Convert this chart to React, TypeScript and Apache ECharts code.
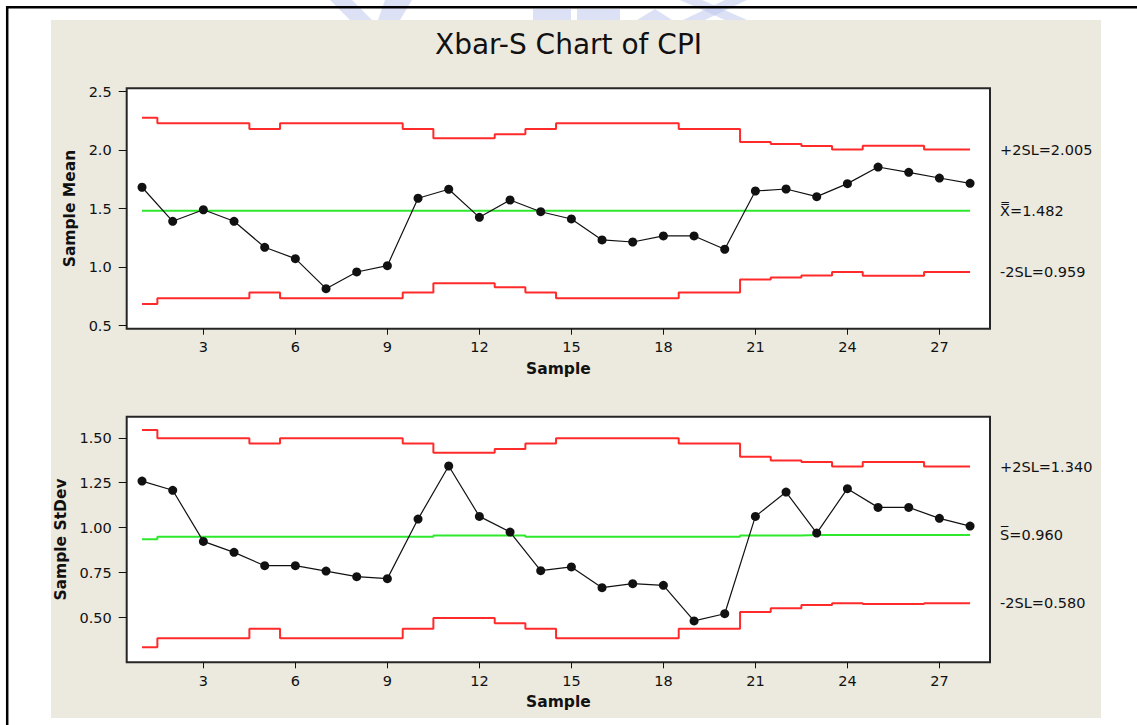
import React, { useEffect, useRef } from "react";
import * as echarts from "echarts";

// Subgroup numbers along the horizontal axis
const sampleIds = [1, 2, 3, 4, 5, 6, 7, 8, 9, 10, 11, 12, 13, 14, 15, 16, 17, 18, 19, 20, 21, 22, 23, 24, 25, 26, 27, 28];
const sampleTicks = [3, 6, 9, 12, 15, 18, 21, 24, 27];
const meanTicks = [0.5, 1.0, 1.5, 2.0, 2.5];
const stdevTicks = [0.5, 0.75, 1.0, 1.25, 1.5];

// Xbar chart: subgroup means with +/- 2 sigma limits
const xbarMeans = [1.683, 1.392, 1.491, 1.392, 1.170, 1.073, 0.816, 0.959, 1.013, 1.589, 1.666, 1.426, 1.574, 1.474, 1.412, 1.233, 1.215, 1.267, 1.267, 1.153, 1.651, 1.668, 1.603, 1.714, 1.856, 1.811, 1.762, 1.717];
const xbarUpper = [2.278, 2.230, 2.230, 2.230, 2.181, 2.230, 2.230, 2.230, 2.230, 2.181, 2.101, 2.101, 2.136, 2.181, 2.230, 2.230, 2.230, 2.230, 2.181, 2.181, 2.070, 2.052, 2.036, 2.005, 2.038, 2.038, 2.005, 2.005];
const xbarCenter = [1.482, 1.482, 1.482, 1.482, 1.482, 1.482, 1.482, 1.482, 1.482, 1.482, 1.482, 1.482, 1.482, 1.482, 1.482, 1.482, 1.482, 1.482, 1.482, 1.482, 1.482, 1.482, 1.482, 1.482, 1.482, 1.482, 1.482, 1.482];
const xbarLower = [0.686, 0.734, 0.734, 0.734, 0.783, 0.734, 0.734, 0.734, 0.734, 0.783, 0.863, 0.863, 0.828, 0.783, 0.734, 0.734, 0.734, 0.734, 0.783, 0.783, 0.894, 0.912, 0.928, 0.959, 0.926, 0.926, 0.959, 0.959];

// S chart: subgroup standard deviations with +/- 2 sigma limits
const stdevValues = [1.259, 1.208, 0.924, 0.863, 0.789, 0.789, 0.759, 0.728, 0.717, 1.048, 1.343, 1.063, 0.976, 0.761, 0.782, 0.667, 0.689, 0.680, 0.482, 0.522, 1.063, 1.198, 0.970, 1.217, 1.113, 1.113, 1.052, 1.009];
const stdevUpper = [1.543, 1.497, 1.497, 1.497, 1.468, 1.497, 1.497, 1.497, 1.497, 1.468, 1.417, 1.417, 1.437, 1.468, 1.497, 1.497, 1.497, 1.497, 1.468, 1.468, 1.394, 1.374, 1.365, 1.340, 1.365, 1.365, 1.340, 1.340];
const stdevCenter = [0.936, 0.950, 0.950, 0.950, 0.950, 0.950, 0.950, 0.950, 0.950, 0.950, 0.957, 0.957, 0.957, 0.950, 0.950, 0.950, 0.950, 0.950, 0.950, 0.950, 0.957, 0.957, 0.960, 0.960, 0.960, 0.960, 0.960, 0.960];
const stdevLower = [0.336, 0.386, 0.386, 0.386, 0.438, 0.386, 0.386, 0.386, 0.386, 0.438, 0.498, 0.498, 0.469, 0.438, 0.386, 0.386, 0.386, 0.386, 0.438, 0.438, 0.532, 0.552, 0.571, 0.580, 0.576, 0.576, 0.580, 0.580];

const FONT = "'DejaVu Sans', Tahoma, sans-serif";
const INK = "#111111";
const RED = "#ff2b2b";
const GREEN = "#2ee82e";
const PANEL = "#ece9df";

const last = (vals: number[]) => vals[vals.length - 1];
const pairs = (vals: number[]) => vals.map((v, i) => [sampleIds[i], v]);

function limitLine(axis: number, vals: number[], color: string, label: string) {
  return {
    type: "line",
    xAxisIndex: axis,
    yAxisIndex: axis,
    data: pairs(vals),
    step: "middle",
    symbol: "none",
    silent: true,
    z: 3,
    lineStyle: { color, width: 2 },
    endLabel: {
      show: true,
      formatter: label,
      distance: 30,
      color: INK,
      fontSize: 14.5,
      fontFamily: FONT,
    },
  };
}

function pointLine(axis: number, vals: number[]) {
  return {
    type: "line",
    xAxisIndex: axis,
    yAxisIndex: axis,
    data: pairs(vals),
    symbol: "circle",
    symbolSize: 9,
    showSymbol: true,
    silent: true,
    z: 5,
    itemStyle: { color: INK },
    lineStyle: { color: INK, width: 1.2 },
  };
}

const axisNameStyle = { fontWeight: "bold", fontSize: 15.5, fontFamily: FONT, color: INK };

function sampleAxis(gridIndex: number) {
  return {
    type: "value",
    gridIndex,
    min: 0.5,
    max: 28.65,
    name: "Sample",
    nameLocation: "middle",
    nameGap: 32,
    nameTextStyle: axisNameStyle,
    axisLine: { show: false },
    axisTick: { show: true, length: 6, customValues: sampleTicks, lineStyle: { color: INK, width: 1 } },
    axisLabel: { customValues: sampleTicks, margin: 11, color: INK, fontSize: 14.5, fontFamily: FONT },
    splitLine: { show: false },
  };
}

function valueAxis(gridIndex: number, name: string, min: number, max: number, ticks: number[], digits: number, gap: number) {
  return {
    type: "value",
    gridIndex,
    min,
    max,
    name,
    nameLocation: "middle",
    nameGap: gap,
    nameTextStyle: axisNameStyle,
    axisLine: { show: false },
    axisTick: { show: true, length: 8, customValues: ticks, lineStyle: { color: INK, width: 1 } },
    axisLabel: {
      customValues: ticks,
      margin: 15,
      color: INK,
      fontSize: 14.5,
      fontFamily: FONT,
      formatter: (v: number) => v.toFixed(digits),
    },
    splitLine: { show: false },
  };
}

const watermark = "#b9c3ee";

export default function App() {
  const ref = useRef<HTMLDivElement>(null);

  useEffect(() => {
    if (!ref.current) return;
    const chart = echarts.init(ref.current, undefined, { renderer: "svg" });
    chart.setOption({
      animation: false,
      backgroundColor: "#ffffff",
      title: {
        text: "Xbar-S Chart of CPI",
        left: "center",
        top: 25,
        textStyle: { fontSize: 28, fontWeight: "normal", fontFamily: FONT, color: INK },
      },
      graphic: [
        // faint logo fragments above the panel
        { type: "polygon", z: -20, shape: { points: [[330, 0], [352, 0], [372, 20], [350, 20]] }, style: { fill: watermark, opacity: 0.5 } },
        { type: "polygon", z: -20, shape: { points: [[385, 0], [412, 0], [400, 20], [378, 20]] }, style: { fill: watermark, opacity: 0.5 } },
        { type: "rect", z: -20, shape: { x: 533, y: 9, width: 38, height: 11 }, style: { fill: watermark, opacity: 0.5 } },
        { type: "rect", z: -20, shape: { x: 577, y: 9, width: 43, height: 11 }, style: { fill: watermark, opacity: 0.5 } },
        { type: "polygon", z: -20, shape: { points: [[637, 20], [655, 9], [672, 20]] }, style: { fill: watermark, opacity: 0.5 } },
        { type: "polygon", z: -20, shape: { points: [[680, 0], [702, 0], [747, 20], [725, 20]] }, style: { fill: watermark, opacity: 0.5 } },
        { type: "polygon", z: -20, shape: { points: [[725, 0], [747, 0], [705, 20], [683, 20]] }, style: { fill: watermark, opacity: 0.5 } },
        // chart panel
        { type: "rect", z: -10, shape: { x: 51, y: 20, width: 1050, height: 698 }, style: { fill: PANEL } },
        // page frame
        { type: "line", z: -5, shape: { x1: 6, y1: 7.2, x2: 1137, y2: 7.2 }, style: { stroke: "#000", lineWidth: 2.5 } },
        { type: "line", z: -5, shape: { x1: 7.2, y1: 6, x2: 7.2, y2: 725 }, style: { stroke: "#000", lineWidth: 2.5 } },
      ],
      grid: [
        { left: 126.7, top: 88.3, right: 147, bottom: 396.3, show: true, backgroundColor: "#ffffff", borderColor: "#262626", borderWidth: 2 },
        { left: 126.7, top: 416.7, right: 147, bottom: 62.7, show: true, backgroundColor: "#ffffff", borderColor: "#262626", borderWidth: 2 },
      ],
      xAxis: [sampleAxis(0), sampleAxis(1)],
      yAxis: [
        valueAxis(0, "Sample Mean", 0.474, 2.529, meanTicks, 1, 49),
        valueAxis(1, "Sample StDev", 0.252, 1.617, stdevTicks, 2, 57),
      ],
      series: [
        limitLine(0, xbarUpper, RED, `+2SL=${last(xbarUpper).toFixed(3)}`),
        limitLine(0, xbarCenter, GREEN, `X\u033F=${last(xbarCenter).toFixed(3)}`),
        limitLine(0, xbarLower, RED, `-2SL=${last(xbarLower).toFixed(3)}`),
        pointLine(0, xbarMeans),
        limitLine(1, stdevUpper, RED, `+2SL=${last(stdevUpper).toFixed(3)}`),
        limitLine(1, stdevCenter, GREEN, `S\u0305=${last(stdevCenter).toFixed(3)}`),
        limitLine(1, stdevLower, RED, `-2SL=${last(stdevLower).toFixed(3)}`),
        pointLine(1, stdevValues),
      ],
    });
    return () => chart.dispose();
  }, []);

  return (
    <div
      ref={ref}
      style={{ position: "fixed", left: 0, top: 0, width: 1137, height: 725 }}
    />
  );
}
